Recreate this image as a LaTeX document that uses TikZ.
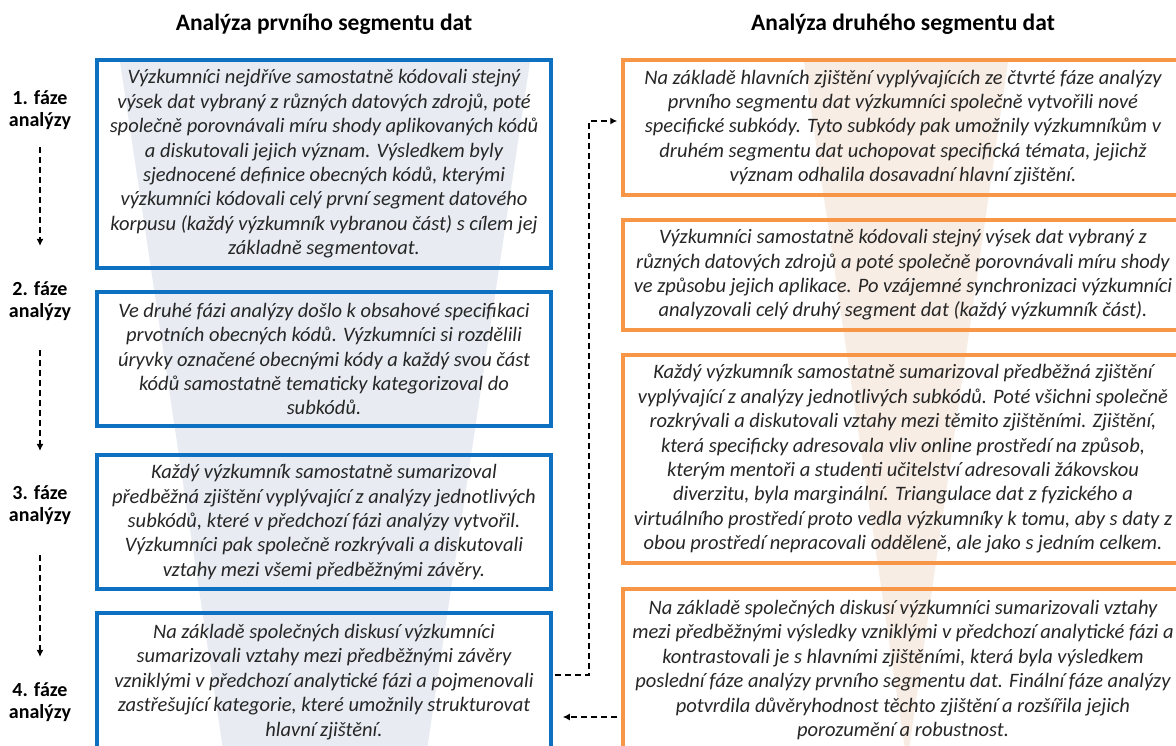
\documentclass[tikz,border=0pt]{standalone}
\usepackage{fontspec}
\setmainfont{Carlito}
\usetikzlibrary{arrows.meta}
\definecolor{boxblue}{HTML}{0E70C0}
\definecolor{boxorange}{HTML}{F79646}
\definecolor{funnelblue}{HTML}{E8ECF2}
\definecolor{funnelorange}{HTML}{F8EDE4}
\definecolor{bodytext}{HTML}{262626}
\begin{document}
\begin{tikzpicture}[x=1pt,y=-1pt,
  leftbox/.style={draw=boxblue,line width=3.5pt,minimum width=454pt,inner xsep=1pt,align=center,text=bodytext,
    font=\fontsize{20.5}{24.4}\selectfont\itshape},
  rightbox/.style={draw=boxorange,line width=3.5pt,minimum width=560pt,inner xsep=1pt,align=center,text=bodytext,
    font=\fontsize{20.5}{24.4}\selectfont\itshape},
  phase/.style={align=center,font=\fontsize{20}{22}\selectfont\bfseries},
  flow/.style={-{Latex[length=7pt,width=7pt]},dashed,dash pattern=on 6pt off 4pt,line width=2pt}]
  \clip (0,0) rectangle (1176,745);

  % Funnels
  \fill[funnelblue] (120,62) -- (530,62) -- (427,750) -- (223,750) -- cycle;
  \fill[funnelorange] (804,62) -- (1008,62) -- (909,750) -- (905,750) -- cycle;

  % Titles
  \node[font=\fontsize{23.5}{28}\selectfont\bfseries] (title1) at (324,24) {Analýza prvního segmentu dat};
  \node[font=\fontsize{23.5}{28}\selectfont\bfseries] (title2) at (903,24) {Analýza druhého segmentu dat};

  % First segment
  \node[leftbox,minimum height=208pt] (L1) at (324,164) {Výzkumníci nejdříve samostatně kódovali stejný\\
    výsek dat vybraný z různých datových zdrojů, poté\\
    společně porovnávali míru shody aplikovaných kódů\\
    a diskutovali jejich význam. Výsledkem byly\\
    sjednocené definice obecných kódů, kterými\\
    výzkumníci kódovali celý první segment datového\\
    korpusu (každý výzkumník vybranou část) s cílem jej\\
    základně segmentovat.};

  \node[leftbox,minimum height=134pt] (L2) at (324,359) {Ve druhé fázi analýzy došlo k obsahové specifikaci\\
    prvotních obecných kódů. Výzkumníci si rozdělili\\
    úryvky označené obecnými kódy a každý svou část\\
    kódů samostatně tematicky kategorizoval do\\
    subkódů.};

  \node[leftbox,minimum height=134pt] (L3) at (324,522) {Každý výzkumník samostatně sumarizoval\\
    předběžná zjištění vyplývající z analýzy jednotlivých\\
    subkódů, které v předchozí fázi analýzy vytvořil.\\
    Výzkumníci pak společně rozkrývali a diskutovali\\
    vztahy mezi všemi předběžnými závěry.};

  \node[leftbox,minimum height=138pt] (L4) at (324,682) {Na základě společných diskusí výzkumníci\\
    sumarizovali vztahy mezi předběžnými závěry\\
    vzniklými v předchozí analytické fázi a pojmenovali\\
    zastřešující kategorie, které umožnily strukturovat\\
    hlavní zjištění.};

  % Second segment
  \node[rightbox,minimum height=135pt] (R1) at (903,127.5) {Na základě hlavních zjištění vyplývajících ze čtvrté fáze analýzy\\
    prvního segmentu dat výzkumníci společně vytvořili nové\\
    specifické subkódy. Tyto subkódy pak umožnily výzkumníkům v\\
    druhém segmentu dat uchopovat specifická témata, jejichž\\
    význam odhalila dosavadní hlavní zjištění.};

  \node[rightbox,minimum height=110pt] (R2) at (903,275) {Výzkumníci samostatně kódovali stejný výsek dat vybraný z\\
    různých datových zdrojů a poté společně porovnávali míru shody\\
    ve způsobu jejich aplikace. Po vzájemné synchronizaci výzkumníci\\
    analyzovali celý druhý segment dat (každý výzkumník část).};

  \node[rightbox,minimum height=208pt] (R3) at (903,459) {Každý výzkumník samostatně sumarizoval předběžná zjištění\\
    vyplývající z analýzy jednotlivých subkódů. Poté všichni společně\\
    rozkrývali a diskutovali vztahy mezi těmito zjištěními. Zjištění,\\
    která specificky adresovala vliv online prostředí na způsob,\\
    kterým mentoři a studenti učitelství adresovali žákovskou\\
    diverzitu, byla marginální. Triangulace dat z fyzického a\\
    virtuálního prostředí proto vedla výzkumníky k tomu, aby s daty z\\
    obou prostředí nepracovali odděleně, ale jako s jedním celkem.};

  \node[rightbox,minimum height=162pt] (R4) at (903,670) {Na základě společných diskusí výzkumníci sumarizovali vztahy\\
    mezi předběžnými výsledky vzniklými v předchozí analytické fázi a\\
    kontrastovali je s hlavními zjištěními, která byla výsledkem\\
    poslední fáze analýzy prvního segmentu dat. Finální fáze analýzy\\
    potvrdila důvěryhodnost těchto zjištění a rozšířila jejich\\
    porozumění a robustnost.};

  % Phases
  \node[phase] (ph1) at (40,110) {1. fáze\\analýzy};
  \node[phase] (ph2) at (40,301) {2. fáze\\analýzy};
  \node[phase] (ph3) at (40,505) {3. fáze\\analýzy};
  \node[phase] (ph4) at (40,702) {4. fáze\\analýzy};

  \draw[flow,shorten <=14pt,shorten >=32pt] (ph1) -- (ph2);
  \draw[flow,shorten <=26pt,shorten >=31pt] (ph2) -- (ph3);
  \draw[flow,shorten <=27pt,shorten >=22pt] (ph3) -- (ph4);

  % Links between segments
  \draw[flow,shorten <=2pt,shorten >=4pt] ([yshift=7pt]L4.east) -- ++(36,0) |- ([yshift=6.5pt]R1.west);
  \coordinate (r4out) at ([yshift=-47pt]R4.west);
  \draw[flow,shorten <=4pt,shorten >=10pt] (r4out) -- (r4out -| L4.east);

\end{tikzpicture}
\end{document}
